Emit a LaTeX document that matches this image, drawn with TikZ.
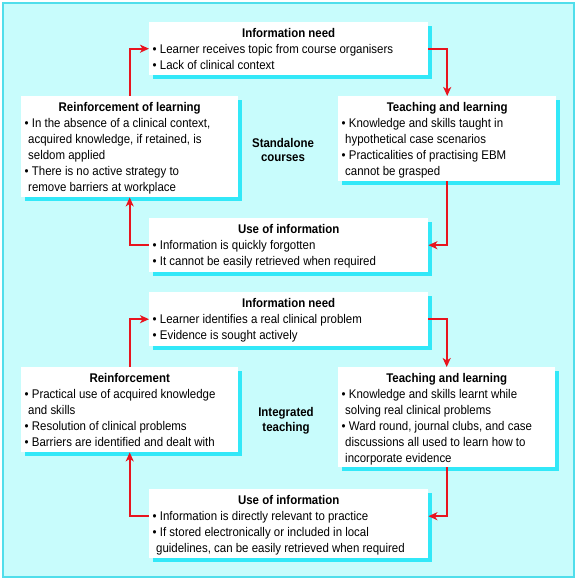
\documentclass[tikz,border=0pt]{standalone}
\usepackage{fontspec}
\setmainfont{Liberation Sans}[FakeStretch=0.91]
\usetikzlibrary{shadows,calc,arrows.meta}
\definecolor{bgc}{RGB}{200,252,252}
\definecolor{framec}{RGB}{80,222,235}
\definecolor{shadowc}{RGB}{50,232,248}
\definecolor{arrowc}{RGB}{232,20,30}
\newcommand{\bl}[1]{\par\noindent\textbullet\ #1}
\newcommand{\cl}[1]{\par\noindent\hspace*{3.5pt}#1}
\newcommand{\bxt}[1]{{\centering\bfseries\rule{0pt}{15pt}#1\par}}
\newcommand{\bx}[3]{\begin{minipage}[c][#2pt][t]{#1pt}\raggedright\fontsize{12.6}{16}\selectfont #3\end{minipage}}
\tikzset{
  box/.style={fill=white, anchor=north west, inner xsep=3.5pt, inner ysep=0pt,
    drop shadow={shadow xshift=3.5pt, shadow yshift=-3.5pt, fill=shadowc, opacity=1}},
  lbl/.style={font=\fontsize{12.6}{14.5}\selectfont\bfseries, align=center},
  arr/.style={draw=arrowc, line width=1.8pt, -{Stealth[length=9pt,width=8pt,inset=2.5pt]}}
}
\begin{document}
\begin{tikzpicture}[x=1pt,y=-1pt]
\useasboundingbox (0,0) rectangle (576,580);
\fill[white] (0,0) rectangle (576,580);
\draw[fill=bgc, draw=framec, line width=1.6pt] (3,3) rectangle (574,577);
% top cycle
\node[box] (in1) at (149,22) {\bx{272}{53}{\bxt{Information need}
  \bl{Learner receives topic from course organisers}
  \bl{Lack of clinical context}}};
\node[box] (rl1) at (21,96) {\bx{210}{101}{\bxt{Reinforcement of learning}
  \bl{In the absence of a clinical context,}
  \cl{acquired knowledge, if retained, is}
  \cl{seldom applied}
  \bl{There is no active strategy to}
  \cl{remove barriers at workplace}}};
\node[box] (tl1) at (338,96) {\bx{211}{85}{\bxt{Teaching and learning}
  \bl{Knowledge and skills taught in}
  \cl{hypothetical case scenarios}
  \bl{Practicalities of practising EBM}
  \cl{cannot be grasped}}};
\node[box] (use1) at (149,218) {\bx{272}{54}{\bxt{Use of information}
  \bl{Information is quickly forgotten}
  \bl{It cannot be easily retrieved when required}}};
\node[lbl] (sc) at (283,150) {Standalone\\courses};
% bottom cycle
\node[box] (in2) at (149,292) {\bx{272}{54}{\bxt{Information need}
  \bl{Learner identifies a real clinical problem}
  \bl{Evidence is sought actively}}};
\node[box] (rl2) at (21,367) {\bx{210}{85}{\bxt{Reinforcement}
  \bl{Practical use of acquired knowledge}
  \cl{and skills}
  \bl{Resolution of clinical problems}
  \bl{Barriers are identified and dealt with}}};
\node[box] (tl2) at (338,367) {\bx{210}{100}{\bxt{Teaching and learning}
  \bl{Knowledge and skills learnt while}
  \cl{solving real clinical problems}
  \bl{Ward round, journal clubs, and case}
  \cl{discussions all used to learn how to}
  \cl{incorporate evidence}}};
\node[box] (use2) at (149,489) {\bx{272}{69}{\bxt{Use of information}
  \bl{Information is directly relevant to practice}
  \bl{If stored electronically or included in local}
  \cl{guidelines, can be easily retrieved when required}}};
\node[lbl] (it) at (286,421) {Integrated\\teaching};
% arrows top
\draw[arr] (in1.east) -| (tl1.north);
\draw[arr] (tl1.south) |- (use1.east);
\draw[arr] (use1.west) -| (rl1.south);
\draw[arr] (rl1.north) |- (in1.west);
% arrows bottom
\coordinate (u2e) at ($(use2.east)+(0,-7.5)$);
\coordinate (u2w) at ($(use2.west)+(0,-7.5)$);
\draw[arr] (in2.east) -| (tl2.north);
\draw[arr] (tl2.south) |- (u2e);
\draw[arr] (u2w) -| (rl2.south);
\draw[arr] (rl2.north) |- (in2.west);
\end{tikzpicture}
\end{document}
